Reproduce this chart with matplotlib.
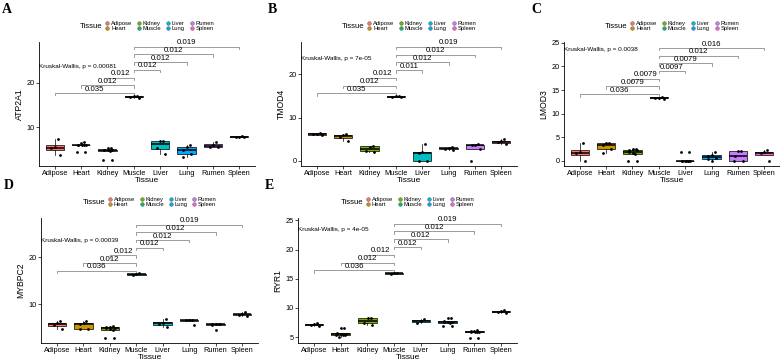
import numpy as np
import matplotlib
matplotlib.use('Agg')
import matplotlib.pyplot as plt
from matplotlib.lines import Line2D
from matplotlib.ticker import MultipleLocator
import matplotlib.transforms as mtransforms

plt.rcParams['font.family'] = ['Liberation Sans', 'DejaVu Sans']

# данные
tissues = ['Adipose', 'Heart', 'Kidney', 'Muscle', 'Liver', 'Lung', 'Rumen', 'Spleen']
colors = ['#F8766D', '#CD9600', '#7CAE00', '#00BE67', '#00BFC4', '#00A9FF', '#C77CFF', '#FF61CC']

atp2a1 = [[7.4, 5.5, 5.3, 3.8], [6.6, 6.5, 6.1, 6.0, 6.0, 5.9, 5.9, 4.4, 4.4],
          [5.4, 5.3, 4.9, 4.8, 4.8, 4.8, 4.7, 2.7, 2.7],
          [17.1, 16.9, 16.8, 16.6], [7.0, 6.9, 5.4, 3.9], [5.9, 5.6, 4.9, 3.9, 3.3],
          [6.6, 6.0, 5.6, 5.5], [8.1, 7.9, 7.8, 7.7]]
tmod4 = [[6.5, 6.3, 6.1, 5.9], [6.3, 5.9, 5.6, 4.7], [3.5, 3.3, 2.3, 2.0],
         [15.0, 14.9, 14.8, 14.7], [3.8, 2.1, 1.9, 0.0, 0.0], [3.2, 3.0, 2.8, 2.6],
         [3.8, 3.7, 3.6, 2.7, 0.0], [5.0, 4.6, 4.3, 4.0]]
lmod3 = [[3.8, 1.8, 1.6, 0.0], [3.8, 3.7, 3.3, 2.4, 1.7],
         [2.5, 2.4, 2.3, 2.2, 1.8, 1.6, 1.5, 0.0, 0.0],
         [13.6, 13.4, 13.3, 13.2], [0, 0, 0, 0, 0, 0, 0, 1.8, 1.8], [1.8, 1.2, 1.0, 0.6, 0.3, 0.0],
         [2.1, 2.0, 1.0, 0.0, 0.0], [2.2, 1.8, 1.6, 0.0]]
mybpc2 = [[6.4, 6.0, 5.6, 4.8], [6.4, 6.0, 5.9, 4.7, 4.7],
          [5.5, 5.2, 5.1, 5.0, 4.9, 4.7, 4.5, 2.9, 2.9],
          [16.6, 16.4, 16.3], [6.9, 6.1, 5.8, 5.3], [6.8, 6.8, 6.7, 5.7],
          [5.9, 5.8, 5.8, 5.8, 5.7, 4.6], [8.3, 8.0, 7.8, 7.6]]
ryr1 = [[7.4, 7.2, 7.1, 6.9], [6.6, 6.6, 5.7, 5.6, 5.5, 5.5, 5.4, 5.3, 5.3, 5.0],
        [8.2, 8.2, 7.5, 7.0],
        [16.0, 15.9, 15.8], [8.1, 7.8, 7.4], [8.2, 8.2, 7.7, 7.6, 7.6, 7.6, 7.5, 6.9, 6.9],
        [6.2, 6.1, 6.0, 5.9, 5.9, 5.8, 5.8, 4.9, 4.9], [9.6, 9.4, 9.3, 9.2]]

kw_p = ['0.00081', '7e-05', '0.0038', '0.00039', '4e-05']
atp2a1_p = ['0.035', '0.012', '0.012', '0.012', '0.012', '0.012', '0.019']
tmod4_p = ['0.035', '0.012', '0.012', '0.011', '0.012', '0.012', '0.019']
lmod3_p = ['0.036', '0.0079', '0.0079', '0.0097', '0.0079', '0.012', '0.016']
mybpc2_p = ['0.036', '0.012', '0.012', '0.012', '0.012', '0.012', '0.019']
ryr1_p = ['0.036', '0.012', '0.012', '0.012', '0.012', '0.012', '0.019']

W, H = 780, 361
fig = plt.figure(figsize=(W / 100, H / 100), dpi=100)

# (буква, ген, данные, p, kw, ось в пикселях [лево, право, верх, низ], ylim, шаг тиков)
panels = [
    ('A', 'ATP2A1', atp2a1, atp2a1_p, kw_p[0], [39, 255, 42, 166], (1.3, 29.1), 10),
    ('B', 'TMOD4', tmod4, tmod4_p, kw_p[1], [301, 517, 42, 166], (-1.2, 27.5), 10),
    ('C', 'LMOD3', lmod3, lmod3_p, kw_p[2], [564, 780, 42, 166], (-1.13, 25.2), 5),
    ('D', 'MYBPC2', mybpc2, mybpc2_p, kw_p[3], [41, 258, 218, 343], (1.8, 28.4), 10),
    ('E', 'RYR1', ryr1, ryr1_p, kw_p[4], [298, 517, 218, 343], (4.0, 25.4), 5),
]

fs = 5.3
for letter, gene, data, pvals, kw, box, ylim, step in panels:
    l, r, t, b = box
    ax = fig.add_axes([l / W, 1 - b / H, (r - l) / W, (b - t) / H])
    pos = np.arange(len(tissues))
    bp = ax.boxplot(data, positions=pos, widths=0.7, patch_artist=True, showfliers=False,
                    medianprops=dict(color='black', lw=1.1),
                    whiskerprops=dict(color='black', lw=0.5),
                    capprops=dict(lw=0), boxprops=dict(lw=0.5, edgecolor='black'))
    for patch, c in zip(bp['boxes'], colors):
        patch.set_facecolor(c)
    for i, vals in enumerate(data):
        n = len(vals)
        jit = 0.18 * np.sin(np.arange(n) * 2.4 + 0.7)
        ax.plot(i + jit, vals, 'o', color='black', ms=2.0, mew=0, zorder=5)

    ax.set_xlim(-0.6, len(tissues) - 0.4)
    ax.set_ylim(*ylim)
    ax.yaxis.set_major_locator(MultipleLocator(step))
    ax.set_xticks(pos)
    ax.set_xticklabels(tissues, fontsize=fs)
    ax.tick_params(axis='y', labelsize=fs)
    ax.tick_params(length=2, width=0.5, pad=1.2, colors='black')
    for s in ['top', 'right']:
        ax.spines[s].set_visible(False)
    for s in ['left', 'bottom']:
        ax.spines[s].set_linewidth(0.6)
    ax.set_ylabel(gene, fontsize=6.2, labelpad=2)
    ax.set_xlabel('Tissue', fontsize=6.0, labelpad=0)

    # скобки сравнений Muscle против остальных
    allv = np.concatenate([np.array(v, dtype=float) for v in data])
    rng = allv.max() - allv.min()
    base = allv.max() + 0.04 * rng
    inc = 0.12 * rng
    tip = 0.02 * (ylim[1] - ylim[0])
    others = [i for i in range(len(tissues)) if tissues[i] != 'Muscle']
    m = tissues.index('Muscle')
    for k, (i, p) in enumerate(zip(others, pvals)):
        y = base + k * inc
        x0, x1 = min(i, m), max(i, m)
        ax.plot([x0, x0, x1, x1], [y - tip, y, y, y - tip], color='#8c8c8c', lw=0.6, clip_on=False)
        ax.annotate(p, ((x0 + x1) / 2, y), xytext=(0, 0.3), textcoords='offset points',
                    ha='center', va='bottom', fontsize=5.7)

    trans = mtransforms.blended_transform_factory(ax.transAxes, ax.transData)
    ax.text(0, 23, 'Kruskal-Wallis, p = ' + kw, transform=trans, ha='left', va='bottom',
            fontsize=4.6, clip_on=False)

    # легенда сверху
    handles = [Line2D([], [], marker='o', ls='', mfc=c, mec='#444444', mew=0.3, ms=2.6) for c in colors]
    cx = (l + r) / 2 + 13
    cy = t - 16
    leg = ax.legend(handles, tissues, ncol=4, loc='center', frameon=False,
                    bbox_to_anchor=(cx / W, 1 - cy / H), bbox_transform=fig.transFigure,
                    fontsize=4.2, handlelength=0.5, handletextpad=0.4, columnspacing=0.9,
                    labelspacing=0.05, borderpad=0)
    fig.canvas.draw()
    ext = leg.get_window_extent()
    fig.text((ext.x0 - 3) / W, 1 - cy / H, 'Tissue', ha='right', va='center', fontsize=5.6)

    fig.text((l - 37) / W if letter in 'AD' else (l - 33) / W, 1 - (t - 42 + 3) / H, letter,
             family='Liberation Serif', fontweight='bold', fontsize=10, ha='left', va='top')

fig.savefig('out.png', dpi=100)
